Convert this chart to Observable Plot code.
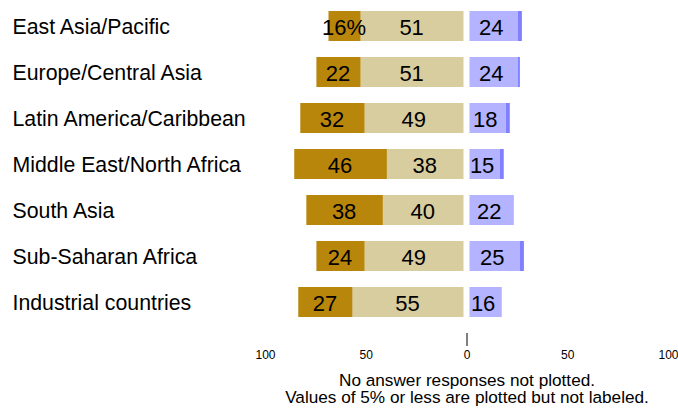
<!DOCTYPE html>
<html>
<head>
<meta charset="utf-8">
<script src="https://cdn.jsdelivr.net/npm/d3@7"></script>
<script src="https://cdn.jsdelivr.net/npm/@observablehq/plot@0.6"></script>
<style>
  html, body { margin: 0; padding: 0; background: #fff; }
  body { position: relative; width: 678px; height: 408px; overflow: hidden; font-family: "Liberation Sans", Arial, sans-serif; }
  #chart svg { overflow: visible; display: block; }
  #caption { position: absolute; left: 467px; top: 371.7px; transform: translateX(-50%); white-space: nowrap; text-align: center; font-size: 17.2px; line-height: 17.5px; color: #000; }
</style>
</head>
<body>
<div id="chart"></div>
<div id="caption">No answer responses not plotted.<br>Values of 5% or less are plotted but not labeled.</div>
<script>
const regions = ["East Asia/Pacific", "Europe/Central Asia", "Latin America/Caribbean",
  "Middle East/North Africa", "South Asia", "Sub-Saharan Africa", "Industrial countries"];
const stronglyNeg = [16, 22, 32, 46, 38, 24, 27];
const neg = [51, 51, 49, 38, 40, 49, 55];
const pos = [24, 24, 18, 15, 22, 25, 16];
const stronglyPos = [2, 1, 2, 2, 0, 2, 0];
const xTicks = [-100, -50, 0, 50, 100];

const keys = ["sn", "n", "p", "sp"];
const colors = ["#b8860b", "#d8cd9e", "#b3b3ff", "#8080ff"];

const left = [], right = [];
regions.forEach((r, i) => {
  left.push({region: r, key: "sn", x1: -(neg[i] + stronglyNeg[i]), x2: -neg[i], v: stronglyNeg[i], first: i === 0});
  left.push({region: r, key: "n", x1: -neg[i], x2: 0, v: neg[i]});
  right.push({region: r, key: "p", x1: 0, x2: pos[i], v: pos[i]});
  right.push({region: r, key: "sp", x1: pos[i], x2: pos[i] + stronglyPos[i], v: stronglyPos[i]});
});
const fmt = d => d.first ? d.v + "%" : String(d.v);
const labeled = arr => arr.filter(d => d.v > 5);

const chart = Plot.plot({
  width: 678,
  height: 364,
  marginLeft: 265,
  marginRight: 10,
  marginTop: 2,
  marginBottom: 38,
  style: {fontFamily: "Liberation Sans, Arial, sans-serif", color: "#000", background: "#fff", overflow: "visible"},
  x: {domain: [-100, 100]},
  y: {domain: regions, paddingInner: 0.34, paddingOuter: 0.17},
  color: {domain: keys, range: colors},
  marks: [
    Plot.barX(left, {x1: "x1", x2: "x2", y: "region", fill: "key", dx: -3}),
    Plot.barX(right, {x1: "x1", x2: "x2", y: "region", fill: "key", dx: 3}),
    Plot.text(labeled(left), {x: d => (d.x1 + d.x2) / 2, y: "region", text: fmt, dx: -4, dy: 1, fontSize: 22, fill: "#000"}),
    Plot.text(labeled(right), {x: d => (d.x1 + d.x2) / 2, y: "region", text: fmt, dx: 0, dy: 1, fontSize: 22, fill: "#000"}),
    Plot.axisY({tickSize: 0, tickPadding: 0, textAnchor: "start", dx: -253, dy: 1, fontSize: 21.3, label: null}),
    Plot.axisX({ticks: [0], tickSize: 13, tickFormat: () => "", dy: 7, label: null, stroke: "#000"}),
    Plot.axisX({ticks: xTicks, tickSize: 0, tickPadding: 24, tickFormat: d => String(Math.abs(d)), fontSize: 12, label: null})
  ]
});
document.getElementById("chart").appendChild(chart);
</script>
</body>
</html>
